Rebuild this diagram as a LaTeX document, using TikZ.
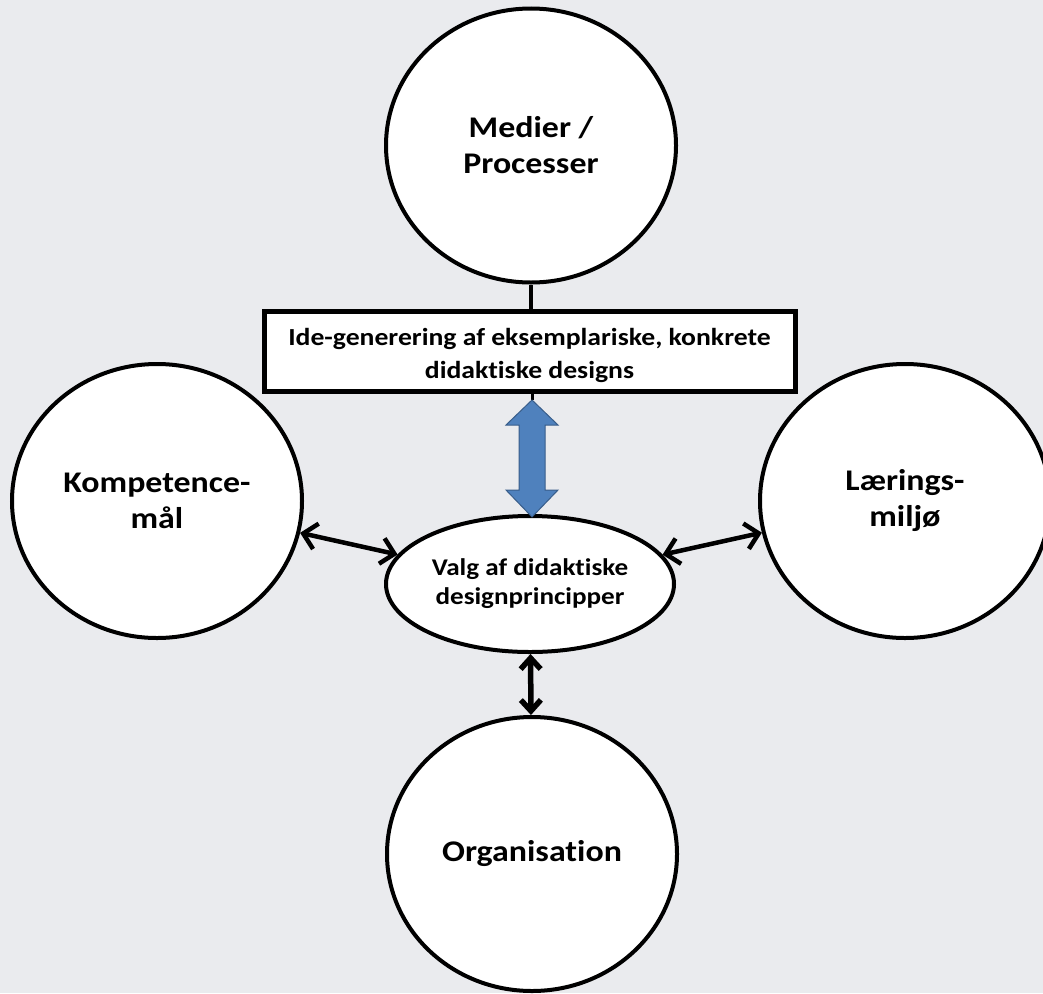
\documentclass[tikz,border=0pt]{standalone}
\usepackage{fontspec}
\setmainfont{Carlito}[Ligatures=NoCommon, FakeStretch=1.13]
\usetikzlibrary{arrows.meta,shapes.geometric}
\definecolor{bgc}{RGB}{234,235,238}
\definecolor{blfill}{RGB}{79,129,189}
\definecolor{bldraw}{RGB}{56,93,138}
\tikzset{
  bigc/.style={ellipse, draw=black, line width=4pt, fill=white, minimum width=290pt, minimum height=274pt, inner sep=0pt, align=center, font=\fontsize{30}{36}\selectfont\bfseries},
  idebox/.style={rectangle, draw=black, line width=5pt, fill=white, minimum width=531pt, minimum height=80pt, inner sep=0pt, align=center, font=\fontsize{24.5}{33}\selectfont\bfseries},
  valgell/.style={ellipse, draw=black, line width=4pt, fill=white, minimum width=288pt, minimum height=136pt, inner sep=0pt, align=center, font=\fontsize{24}{29}\selectfont\bfseries},
  conn/.style={line width=4.5pt, {Straight Barb[length=13pt,width=26pt]}-{Straight Barb[length=13pt,width=26pt]}},
  connb/.style={line width=5.5pt, {Straight Barb[length=11pt,width=20pt]}-{Straight Barb[length=11pt,width=20pt]}},
}
\begin{document}
\begin{tikzpicture}[x=1pt,y=-1pt]
\fill[bgc] (0,0) rectangle (1043,993);
\useasboundingbox (0,0) rectangle (1043,993);
\node[bigc] (med) at (531,145.5) {Medier /\\Processer};
\node[bigc] (kom) at (157,501) {Kompetence-\\mål};
\node[bigc] (laer) at (905,501) {Lærings-\\miljø};
\node[bigc] (org) at (532,854) {Organisation};
\node[valgell] (valg) at (530,584) {Valg af didaktiske\\designprincipper};
\draw[line width=4pt] (med.south) -- (med.south |- 0,310);
\node[idebox] (ide) at (529.5,351) {\rule{0pt}{27pt}Ide-generering af eksemplariske, konkrete\\didaktiske designs};
\coordinate (at) at (532,400);
\coordinate (ab) at (532,517);
\draw[line width=3pt] (ide.south -| at) -- (at);
\fill[blfill, draw=bldraw, line width=1pt]
  (at) -- ++(26,25) -- ++(-13,0) -- ++(0,65) -- ++(13,0) -- (ab) -- ++(-26,-27) -- ++(13,0) -- ++(0,-65) -- ++(-13,0) -- cycle;
\draw[conn] (kom) -- (valg);
\draw[conn] (valg) -- (laer);
\draw[connb] (valg) -- (org);
\end{tikzpicture}
\end{document}
